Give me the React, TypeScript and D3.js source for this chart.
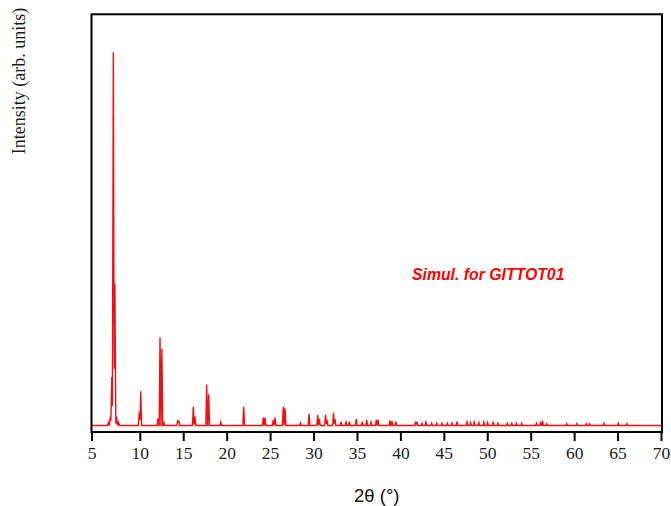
import React, { useEffect, useRef } from 'react'
import * as d3 from 'd3'

// peak positions (2θ, degrees) and heights (% of the strongest)
const peakAngles = [
  6.75, 6.95, 7.1, 7.26, 7.42, 7.6, 7.8,
  9.95, 10.11, 12.1, 12.33, 12.54, 12.75, 14.37, 14.5, 16.16, 16.35,
  17.7, 17.93, 19.32, 21.96, 24.22, 24.41, 25.37, 25.57, 26.52, 26.72,
  28.5, 29.48, 30.48, 30.67, 31.38, 31.55, 32.3, 32.47, 33.16, 33.74,
  34.12, 34.92, 35.61, 36.12, 36.62, 37.23, 37.42, 38.8, 39.03, 39.49,
  41.74, 41.9, 42.49, 42.94, 43.6, 44.18, 44.79, 45.42, 45.94, 46.52,
  47.67, 48.07, 48.5, 49.02, 49.6, 50.03, 50.69, 51.23, 52.3, 52.82,
  53.34, 53.96, 55.66, 56.15, 56.38, 56.84, 59.14, 60.29, 61.4, 61.77,
  63.43, 65.08, 66.08,
]
const peakHeights = [
  0.8, 2.4, 13, 100, 38, 2.4, 0.8,
  3.7, 9.2, 1.9, 23.6, 20.6, 1.0, 1.5, 1.2, 5.0, 2.4,
  11.0, 8.4, 0.9, 5.0, 2.1, 2.1, 1.5, 2.1, 5.0, 4.6,
  0.7, 3.1, 2.8, 1.8, 2.9, 1.5, 3.4, 1.7, 1.0, 0.9,
  1.0, 1.8, 1.0, 1.5, 0.9, 1.5, 1.5, 1.4, 1.2, 1.0,
  1.0, 1.0, 0.6, 0.9, 0.6, 0.6, 0.6, 0.6, 0.7, 1.0,
  0.9, 0.8, 0.9, 0.8, 0.9, 0.8, 1.0, 0.6, 0.6, 0.6,
  0.6, 0.6, 0.6, 1.0, 0.9, 0.5, 0.5, 0.5, 0.5, 0.5,
  0.6, 0.6, 0.5,
]
const xTicks = [5, 10, 15, 20, 25, 30, 35, 40, 45, 50, 55, 60, 65, 70]
const xBreaks = [5, 10, 70]

const App = () => {
  const svgRef = useRef(null)

  useEffect(() => {
    const width = 671
    const height = 506
    const left = 91.5
    const right = 662
    const top = 14.3
    const bottom = 432
    const halfWidth = 0.1

    const svg = d3.select(svgRef.current).attr('width', width).attr('height', height)
    svg.selectAll('*').remove()

    // the source axis stretches the 5-10 interval a little
    const x = d3.scaleLinear().domain(xBreaks).range([left, 139.8, 661])
    const y = d3.scaleLinear().domain([-1.74, 110.2]).range([bottom, top])

    // piecewise-linear profile: each peak is a narrow triangle, overlapping ones add up
    const profile = (t) =>
      d3.sum(peakAngles, (p, i) => Math.max(0, peakHeights[i] * (1 - Math.abs(t - p) / halfWidth)))
    const xs = Array.from(
      new Set([5, 70, ...peakAngles.flatMap((p) => [p - halfWidth, p, p + halfWidth])])
    ).sort((a, b) => a - b)
    const pts = xs.map((t) => [t, profile(t)])

    const line = d3
      .line()
      .x((d) => x(d[0]))
      .y((d) => y(d[1]))

    svg
      .append('path')
      .datum(pts)
      .attr('d', line)
      .attr('fill', 'none')
      .attr('stroke', '#f01010')
      .attr('stroke-width', 1.4)

    // frame
    svg
      .append('rect')
      .attr('x', left)
      .attr('y', top)
      .attr('width', right - left)
      .attr('height', bottom - top)
      .attr('fill', 'none')
      .attr('stroke', '#000')
      .attr('stroke-width', 2)

    // bottom axis
    const axis = d3
      .axisBottom(x)
      .tickValues(xTicks)
      .tickSize(9)
      .tickPadding(6)
      .tickFormat(d3.format('d'))
    const g = svg.append('g').attr('transform', `translate(0, ${bottom})`).call(axis)
    g.select('.domain').remove()
    g.selectAll('line').attr('stroke', '#000').attr('stroke-width', 2)
    g.selectAll('text')
      .attr('fill', '#1a1a1a')
      .style('font-family', '"Liberation Serif", "Times New Roman", serif')
      .style('font-size', '17.5px')

    svg
      .append('text')
      .attr('x', (left + right) / 2)
      .attr('y', 502)
      .attr('text-anchor', 'middle')
      .style('font-family', '"Liberation Sans", Arial, sans-serif')
      .style('font-size', '18.5px')
      .attr('fill', '#111')
      .text('2θ (°)')

    svg
      .append('text')
      .attr('transform', 'translate(25, 81) rotate(-90)')
      .attr('text-anchor', 'middle')
      .style('font-family', '"Liberation Serif", "Times New Roman", serif')
      .style('font-size', '18px')
      .attr('fill', '#1a1a1a')
      .text('Intensity (arb. units)')

    svg
      .append('text')
      .attr('x', 412)
      .attr('y', 280)
      .style('font-family', '"Liberation Sans", Arial, sans-serif')
      .style('font-size', '15.8px')
      .style('font-weight', 'bold')
      .style('font-style', 'italic')
      .attr('fill', '#ff0000')
      .text('Simul. for GITTOT01')
  }, [])

  return <svg ref={svgRef} style={{ position: 'absolute', left: 0, top: 0, display: 'block' }}></svg>
}

export default App
